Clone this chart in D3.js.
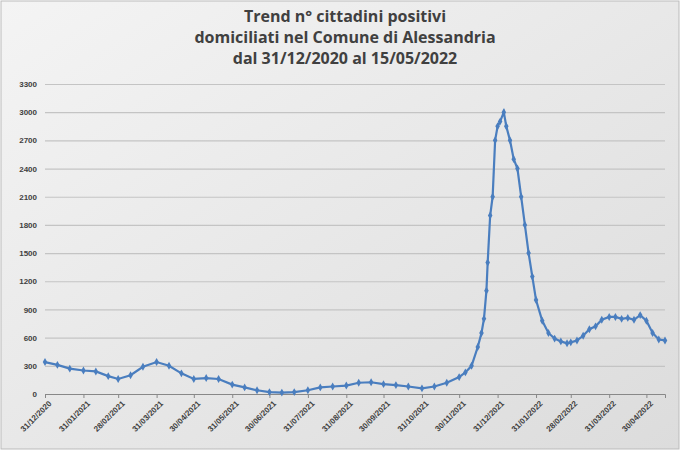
<!DOCTYPE html>
<html><head><meta charset="utf-8">
<script src="https://cdn.jsdelivr.net/npm/d3@7"></script>
<style>body{margin:0;background:#fff;font-family:"Open Sans",sans-serif}</style>
</head><body>
<script>
var dates = ["31/12/2020","10/01/2021","20/01/2021","31/01/2021","10/02/2021","20/02/2021","28/02/2021","10/03/2021","20/03/2021","31/03/2021","10/04/2021","20/04/2021","30/04/2021","10/05/2021","20/05/2021","31/05/2021","10/06/2021","20/06/2021","30/06/2021","10/07/2021","20/07/2021","31/07/2021","10/08/2021","20/08/2021","31/08/2021","10/09/2021","20/09/2021","30/09/2021","10/10/2021","20/10/2021","31/10/2021","10/11/2021","20/11/2021","30/11/2021","05/12/2021","10/12/2021","15/12/2021","18/12/2021","20/12/2021","22/12/2021","23/12/2021","25/12/2021","27/12/2021","29/12/2021","31/12/2021","02/01/2022","05/01/2022","07/01/2022","10/01/2022","13/01/2022","16/01/2022","19/01/2022","22/01/2022","25/01/2022","28/01/2022","31/01/2022","05/02/2022","10/02/2022","15/02/2022","20/02/2022","25/02/2022","28/02/2022","05/03/2022","10/03/2022","15/03/2022","20/03/2022","25/03/2022","31/03/2022","05/04/2022","10/04/2022","15/04/2022","20/04/2022","25/04/2022","30/04/2022","05/05/2022","10/05/2022","15/05/2022"];
var positivi = [340,310,270,250,240,190,160,200,290,340,300,220,160,170,160,100,70,40,20,15,20,40,70,80,90,120,125,105,95,80,60,80,120,180,230,300,500,650,800,1100,1400,1900,2100,2700,2850,2900,3000,2850,2700,2500,2400,2100,1800,1500,1250,1000,780,650,590,560,540,550,570,620,690,720,790,820,820,800,810,790,840,780,650,580,570];
var tickDates = ["31/12/2020","31/01/2021","28/02/2021","31/03/2021","30/04/2021","31/05/2021","30/06/2021","31/07/2021","31/08/2021","30/09/2021","31/10/2021","30/11/2021","31/12/2021","31/01/2022","28/02/2022","31/03/2022","30/04/2022"];
var yTicks = d3.range(0, 3301, 300);
var titleLines = ["Trend n° cittadini positivi","domiciliati nel Comune di Alessandria","dal 31/12/2020 al 15/05/2022"];

var parse = d3.timeParse("%d/%m/%Y");
var data = dates.map(function (d, i) { return {t: parse(d), v: positivi[i]}; });

var W = 680, H = 450, m = {l: 45, r: 15, t: 84, b: 56};
var svg = d3.select("body").append("svg").attr("width", W).attr("height", H);
var grad = svg.append("defs").append("linearGradient").attr("id", "bg").attr("x1", 0).attr("y1", 0).attr("x2", 1).attr("y2", 1);
grad.append("stop").attr("offset", 0).attr("stop-color", "#f4f4f4");
grad.append("stop").attr("offset", 1).attr("stop-color", "#dcdcdc");
svg.append("rect").attr("x", 1).attr("y", 1).attr("width", W - 2).attr("height", H - 2)
    .attr("fill", "url(#bg)").attr("stroke", "#bbb");

var x = d3.scaleTime().domain([parse("31/12/2020"), parse("15/05/2022")]).range([m.l, W - m.r]);
var y = d3.scaleLinear().domain([0, 3300]).range([H - m.b, m.t]);

svg.selectAll("text.title").data(titleLines).enter().append("text")
    .attr("x", 345).attr("y", function (d, i) { return 22 + i * 21; })
    .attr("text-anchor", "middle").attr("font-size", 16).attr("font-weight", "bold").attr("fill", "#404040")
    .text(function (d) { return d; });

var yAxis = svg.append("g").attr("transform", "translate(" + m.l + ",0)")
    .call(d3.axisLeft(y).tickValues(yTicks).tickFormat(d3.format("d")).tickSize(-(W - m.l - m.r)).tickPadding(8));
yAxis.select(".domain").remove();
yAxis.selectAll("line").attr("stroke", "#c4c4c4").attr("stroke-width", 1.2);
yAxis.selectAll("text").attr("font-size", 8).attr("font-weight", "bold").attr("fill", "#404040");

var xAxis = svg.append("g").attr("transform", "translate(0," + (H - m.b) + ")")
    .call(d3.axisBottom(x).tickValues(tickDates.map(parse)).tickFormat(d3.timeFormat("%d/%m/%Y")).tickSize(4));
xAxis.select(".domain").attr("stroke", "#888");
xAxis.selectAll("line").attr("stroke", "#888");
xAxis.selectAll("text").attr("font-size", 8).attr("font-weight", "bold").attr("fill", "#404040")
    .attr("text-anchor", "end").attr("transform", "rotate(-45)").attr("dx", "-0.3em").attr("dy", "0.6em");

svg.append("path").datum(data)
    .attr("d", d3.line().x(function (d) { return x(d.t); }).y(function (d) { return y(d.v); }))
    .attr("fill", "none").attr("stroke", "#4a7ebf").attr("stroke-width", 2.2);
svg.selectAll("path.pt").data(data).enter().append("path")
    .attr("d", d3.symbol().type(d3.symbolDiamond).size(18))
    .attr("transform", function (d) { return "translate(" + x(d.t) + "," + y(d.v) + ")"; })
    .attr("fill", "#4a7ebf");
</script>
</body></html>
